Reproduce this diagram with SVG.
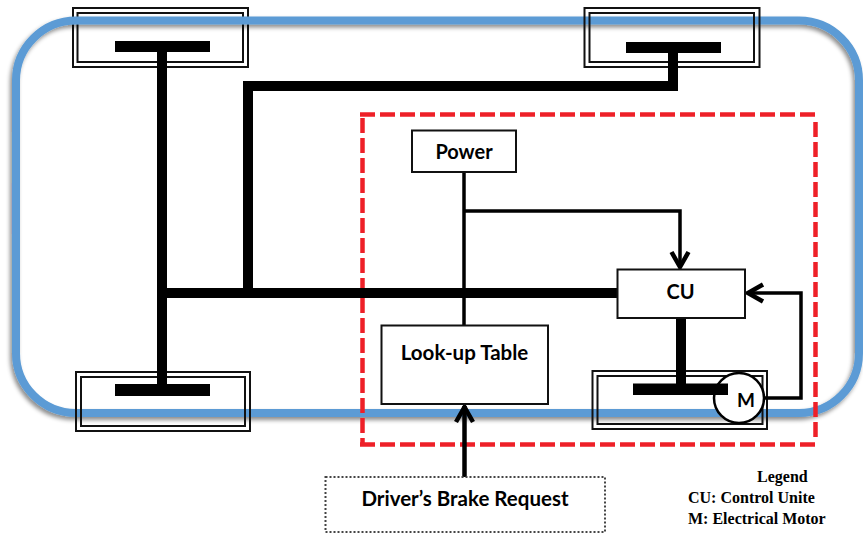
<svg xmlns="http://www.w3.org/2000/svg" width="863" height="535" viewBox="0 0 863 535">
<defs>
<filter id="shadow" x="-5%" y="-5%" width="110%" height="115%"><feDropShadow dx="-2" dy="3" stdDeviation="2" flood-color="#000" flood-opacity="0.45"/></filter>
<marker id="open" markerUnits="userSpaceOnUse" markerWidth="24" markerHeight="24" refX="20" refY="12" orient="auto"><path d="M4 3.500 L19 12 L4 20.500" fill="none" stroke="#000" stroke-width="4.500"/></marker>
</defs>
<style>
.frame{fill:none;stroke:#111;stroke-width:2}
.bar{fill:#000}
.thick{fill:none;stroke:#000;stroke-width:10}
.thin{fill:none;stroke:#000;stroke-width:3.500}
.red{fill:none;stroke:#ee2028;stroke-width:4.500;stroke-dasharray:15 5}
.box{fill:#fff;stroke:#111;stroke-width:2}
.lbl{font-family:"Lato","Open Sans",sans-serif;font-weight:700;fill:#000;text-anchor:middle}
.leg{font-family:"Liberation Serif",serif;font-weight:700;font-size:16px;fill:#000}
</style>
<rect width="863" height="535" fill="#fff"/>
<g id="wheel-front-left-frame"><rect class="frame" x="73" y="8" width="175" height="59"/><rect class="frame" x="77.500" y="13" width="165.500" height="49"/></g>
<g id="vehicle-body"><rect x="16" y="20.500" width="843" height="392.500" rx="60" ry="60" fill="none" stroke="#5b9bd5" stroke-width="8" filter="url(#shadow)"/></g>
<g id="wheel-front-right"><rect class="frame" x="584.500" y="8" width="175" height="59"/><rect class="frame" x="589.500" y="13" width="164.500" height="49"/><rect class="bar" x="626" y="42" width="95" height="11"/></g>
<g id="wheel-front-left"><rect class="bar" x="115" y="41" width="95" height="11"/></g>
<g id="wheel-rear-left"><rect class="frame" x="76" y="372" width="174" height="59"/><rect class="frame" x="81" y="377" width="164" height="49"/><rect class="bar" x="115" y="384" width="95" height="12"/></g>
<g id="wheel-rear-right"><rect class="frame" x="592.500" y="371" width="174.500" height="58"/><rect class="frame" x="597.500" y="376" width="165" height="48"/></g>
<g id="controller-boundary"><path class="red" d="M360 114.500H818"/><path class="red" d="M360 444.500H818"/><path class="red" d="M362.500 118V444"/><path class="red" d="M815.500 122V438"/></g>
<g id="connectors">
<path class="thick" d="M162 52V384"/>
<path class="thick" d="M163 293H618"/>
<path class="thick" d="M248 293V86H673V53"/>
<path class="thick" d="M681 318V384"/>
<path class="thin" d="M464 172V326"/>
<path class="thin" d="M464 211H680V268" marker-end="url(#open)"/>
<path class="thin" d="M762 398H801V293H747" marker-end="url(#open)"/>
<path class="thin" d="M464.500 477V406" marker-end="url(#open)" style="stroke-width:4.500"/>
</g>
<g id="motor"><circle cx="739" cy="398" r="25" fill="#fff" stroke="#000" stroke-width="2.500"/><rect class="bar" x="633" y="383.500" width="95" height="11.500"/><text class="lbl" x="746" y="407" font-size="19">M</text></g>
<g id="power"><rect class="box" x="412" y="130.500" width="104" height="41.500"/><text class="lbl" x="464" y="159" font-size="20">Power</text></g>
<g id="cu"><rect class="box" x="617.500" y="269.500" width="127.500" height="48.500"/><text class="lbl" x="680.500" y="299" font-size="20">CU</text></g>
<g id="lookup"><rect class="box" x="381.500" y="325.500" width="166.500" height="78.500"/><text class="lbl" x="464.500" y="360" font-size="20.500">Look-up Table</text></g>
<g id="brake-request"><rect x="325.500" y="477" width="279.500" height="55" fill="#fff" stroke="#444" stroke-width="2" stroke-dasharray="2 2"/><text class="lbl" x="465" y="506" font-size="20.500">Driver’s Brake Request</text></g>
<g id="legend"><text class="leg" x="757" y="482">Legend</text><text class="leg" x="688" y="503">CU: Control Unite</text><text class="leg" x="688" y="524">M: Electrical Motor</text></g>
</svg>
